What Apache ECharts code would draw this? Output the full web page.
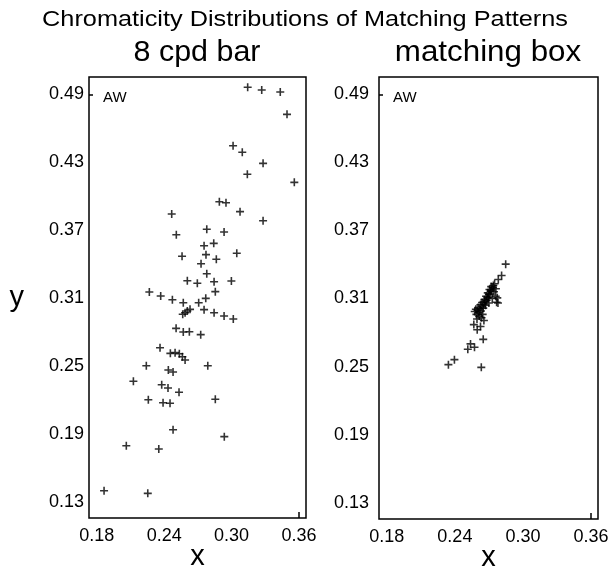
<!DOCTYPE html>
<html>
<head>
<meta charset="utf-8">
<script src="https://cdn.jsdelivr.net/npm/echarts@6/dist/echarts.min.js"></script>
<style>
  html, body { margin: 0; padding: 0; background: #fff; }
  #chart { width: 611px; height: 573px; }
</style>
</head>
<body>
<div id="chart"></div>
<script>
// Chromaticity (x, y) of matches made by observer AW
const barPoints = [
  [0.3143,0.4962],[0.3268,0.4938],[0.3433,0.4920],[0.3493,0.4723],[0.3013,0.4446],
  [0.3095,0.4388],[0.3280,0.4290],[0.3140,0.4193],[0.3558,0.4122],[0.2891,0.3951],
  [0.2950,0.3942],[0.3075,0.3863],[0.2467,0.3842],[0.3280,0.3783],[0.2779,0.3707],
  [0.2933,0.3683],[0.2508,0.3659],[0.2755,0.3562],[0.2841,0.3583],[0.2559,0.3469],
  [0.2772,0.3483],[0.2864,0.3442],[0.3046,0.3495],[0.2728,0.3403],[0.2779,0.3315],
  [0.2606,0.3253],[0.2695,0.3230],[0.2844,0.3244],[0.2998,0.3250],[0.2268,0.3153],
  [0.2369,0.3118],[0.2855,0.3156],[0.2473,0.3085],[0.2570,0.3058],[0.2707,0.3058],
  [0.2770,0.3097],[0.2630,0.3000],[0.2606,0.2985],[0.2586,0.2970],[0.2565,0.2956],
  [0.2755,0.2997],[0.2844,0.2970],[0.2933,0.2941],[0.3015,0.2915],[0.2506,0.2832],
  [0.2570,0.2800],[0.2624,0.2802],[0.2725,0.2776],[0.2363,0.2661],[0.2455,0.2611],
  [0.2497,0.2617],[0.2535,0.2608],[0.2562,0.2581],[0.2586,0.2552],[0.2241,0.2502],
  [0.2788,0.2502],[0.2437,0.2464],[0.2479,0.2446],[0.2126,0.2364],[0.2378,0.2334],
  [0.2434,0.2305],[0.2532,0.2267],[0.2259,0.2201],[0.2855,0.2205],[0.2390,0.2175],
  [0.2452,0.2170],[0.2479,0.1936],[0.2935,0.1875],[0.2063,0.1795],[0.2352,0.1766],
  [0.1865,0.1397],[0.2254,0.1374]
];

const boxPoints = [
  [0.2848,0.3403],[0.2812,0.3303],[0.2783,0.3268],[0.2739,0.3215],[0.2762,0.3186],
  [0.2774,0.3106],[0.2768,0.3067],[0.2656,0.2906],[0.2567,0.2870],[0.2626,0.2853],
  [0.2597,0.2824],[0.2650,0.2740],[0.2538,0.2700],[0.2573,0.2670],[0.2514,0.2652],
  [0.2396,0.2561],[0.2343,0.2517],[0.2633,0.2493],
  [0.2575,0.2985],[0.2590,0.2960],[0.2600,0.2995],[0.2610,0.2975],[0.2585,0.3005],
  [0.2620,0.3010],[0.2630,0.2990],[0.2605,0.3020],[0.2640,0.3030],[0.2625,0.3045],
  [0.2650,0.3015],[0.2655,0.3050],[0.2640,0.3065],[0.2665,0.3070],[0.2670,0.3040],
  [0.2660,0.3090],[0.2680,0.3085],[0.2685,0.3105],[0.2675,0.3120],[0.2695,0.3110],
  [0.2700,0.3135],[0.2690,0.3150],[0.2710,0.3140],[0.2715,0.3165],[0.2705,0.3180],
  [0.2725,0.3175],[0.2735,0.3195],[0.2745,0.3160],[0.2720,0.3205],[0.2615,0.2945],
  [0.2635,0.2930],[0.2595,0.2920],[0.2645,0.2960],[0.2760,0.3120],[0.2780,0.3060],
  [0.2730,0.3100],[0.2700,0.3060],[0.2750,0.3230]
];

const xTicks = [0.18, 0.24, 0.30, 0.36];
const yTicks = [0.13, 0.19, 0.25, 0.31, 0.37, 0.43, 0.49];
const panelTitles = ['8 cpd bar', 'matching box'];
const chartTitle = 'Chromaticity Distributions of Matching Patterns';
const observer = 'AW';

const FONT = 'Liberation Sans, Arial, Helvetica, sans-serif';
const X_MIN = 0.1731, X_MAX = 0.3662;
const Y_MIN = 0.1156, Y_MAX = 0.5053;
// plus-sign marker, filled outline
const PLUS = 'path://M3.6,0H5.4V3.6H9V5.4H5.4V9H3.6V5.4H0V3.6H3.6Z';

const grids = [
  { left: 89, top: 77, width: 217, height: 441 },
  { left: 379, top: 77, width: 219, height: 442 }
];

function xAxisFor(i) {
  return {
    type: 'value', gridIndex: i, min: X_MIN, max: X_MAX,
    name: 'x', nameLocation: 'middle', nameGap: 24, nameMoveOverlap: false,
    nameTextStyle: { fontFamily: FONT, fontSize: 29, color: '#000' },
    axisLine: { show: false },
    splitLine: { show: false },
    axisTick: { show: true, inside: true, length: 6, customValues: [xTicks[xTicks.length - 1]],
                lineStyle: { color: '#000', width: 1.5 } },
    axisLabel: { customValues: xTicks, margin: 9, fontFamily: FONT, fontSize: 18, color: '#000',
                 formatter: v => v.toFixed(2) }
  };
}

function yAxisFor(i) {
  return {
    type: 'value', gridIndex: i, min: Y_MIN, max: Y_MAX,
    name: i === 0 ? 'y' : '', nameLocation: 'middle', nameRotate: 0, nameGap: 65,
    nameMoveOverlap: false,
    nameTextStyle: { fontFamily: FONT, fontSize: 29, color: '#000', padding: [8, 0, 0, 0] },
    axisLine: { show: false },
    splitLine: { show: false },
    axisTick: { show: true, inside: true, length: 4, customValues: [yTicks[yTicks.length - 1]],
                lineStyle: { color: '#000', width: 1.5 } },
    axisLabel: { customValues: yTicks, margin: i === 0 ? 5 : 10, fontFamily: FONT, fontSize: 18,
                 color: '#000', formatter: v => v.toFixed(2) }
  };
}

function headText(text, cx, cy, size, sx) {
  return {
    type: 'text', x: cx, y: cy, scaleX: sx,
    style: { text: text, fontFamily: FONT, fontSize: size, fill: '#000',
             align: 'center', verticalAlign: 'middle' }
  };
}

const option = {
  backgroundColor: '#fff',
  animation: false,
  grid: grids.map(g => Object.assign({ show: true, borderColor: '#000', borderWidth: 1.5,
                                        backgroundColor: 'transparent',
                                        outerBoundsMode: 'none', containLabel: false }, g)),
  xAxis: [xAxisFor(0), xAxisFor(1)],
  yAxis: [yAxisFor(0), yAxisFor(1)],
  graphic: [
    headText(chartTitle, 305, 20, 22, 1.15),
    headText(panelTitles[0], 197, 53, 29, 1.05),
    headText(panelTitles[1], 488, 53, 29, 1.08)
  ].concat(grids.map(g => ({
    type: 'text', left: g.left + 14, top: g.top + 13,
    style: { text: observer, fontFamily: FONT, fontSize: 15, fill: '#000' }
  }))),
  series: [
    { type: 'scatter', xAxisIndex: 0, yAxisIndex: 0, data: barPoints,
      symbol: PLUS, symbolSize: 8, itemStyle: { color: '#000' } },
    { type: 'scatter', xAxisIndex: 1, yAxisIndex: 1, data: boxPoints,
      symbol: PLUS, symbolSize: 8, itemStyle: { color: '#000' } }
  ]
};

const chart = echarts.init(document.getElementById('chart'), null, { renderer: 'canvas' });
chart.setOption(option);
</script>
</body>
</html>
